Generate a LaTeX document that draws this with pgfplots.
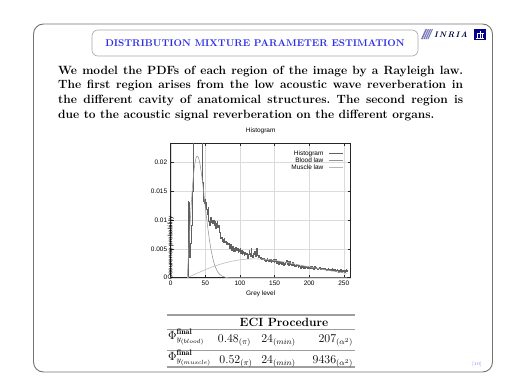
\documentclass[border=0pt]{standalone}
\usepackage{fontspec}
\usepackage{pgfplots}
\pgfplotsset{compat=1.18}
\newfontfamily\plotfont{Liberation Sans}
\definecolor{titleblue}{RGB}{45,45,230}
\definecolor{framegray}{gray}{0.45}
\definecolor{rulegray}{gray}{0.62}
\newcommand{\pf}{\plotfont\fontsize{6.5}{7}\selectfont}
\begin{document}
\begin{tikzpicture}
\begin{scope}[x=1bp,y=1bp]
\useasboundingbox (0,0) rectangle (525,390);
% frame
\draw[framegray, line width=0.9bp, rounded corners=10bp] (33.5,366) rectangle (492.5,18);
% title box
\draw[gray!70, line width=0.6bp, rounded corners=6bp] (92,334) rectangle (418,360);
\node[font=\fontsize{9.8}{10}\selectfont\bfseries, text=titleblue, inner sep=0] at (255,346.8) {DISTRIBUTION MIXTURE PARAMETER ESTIMATION};
% logo
\fill[blue!30!gray!80] (421,351) -- (425.5,361) -- (433,361) -- (428.5,351) -- cycle;
\draw[white, line width=0.4bp] (423,351) -- (427.5,361) (425,351) -- (429.5,361) (427,351)--(431.5,361);
\node[anchor=west, inner sep=0, font=\fontsize{8}{8}\selectfont\bfseries\itshape, text=blue!25!black] at (434,355.5) {I\kern1.2pt N\kern1.2pt R\kern1.2pt I\kern1.2pt A};
\fill[blue!55!black] (473.5,350.5) rectangle (486,361);
\draw[white, line width=0.6bp] (475.5,352.2)--(484,352.2) (477.5,352.2)--(477.5,356.5) (480,352.2)--(480,359.5) (482.5,352.2)--(482.5,356.5) (476.5,356.5)--(483.5,356.5);
% body text
\node[anchor=north west, inner sep=0, text width=405bp, align=justify, font=\fontsize{12}{14.7}\selectfont\bfseries] at (58,324.3) {\frenchspacing\hyphenpenalty=10000 We model the PDFs of each region of the image by a Rayleigh law.\linebreak The first region arises from the low acoustic wave reverberation in\linebreak the different cavity of anatomical structures. The second region is\linebreak due to the acoustic signal reverberation on the different organs.};
% table
\draw[rulegray, line width=1.4bp] (167,75) -- (355,75);
\node[font=\fontsize{12}{14}\selectfont\bfseries, inner sep=0] at (284,67.5) {ECI Procedure};
\draw[rulegray, line width=0.7bp] (167,60.5) -- (355,60.5);
\draw[rulegray, line width=0.7bp] (167,40) -- (355,40);
\draw[rulegray, line width=1.4bp] (167,23) -- (355,23);
\begin{scope}[every node/.style={font=\fontsize{12}{14}\selectfont, inner sep=0}]
\node[anchor=base west] at (168,51) {$\Phi^{\mathbf{final}}_{y_{(blood)}}$};
\node[anchor=base west] at (168,30) {$\Phi^{\mathbf{final}}_{y_{(muscle)}}$};
\node[anchor=base] at (234.5,47.3) {$0.48_{(\pi)}$};
\node[anchor=base] at (236,26.7) {$0.52_{(\pi)}$};
\node[anchor=base] at (278.5,47.3) {$24_{(min)}$};
\node[anchor=base] at (278.5,26.7) {$24_{(min)}$};
\node[anchor=base east] at (353,47.3) {$207_{(\alpha^2)}$};
\node[anchor=base east] at (353,26.7) {$9436_{(\alpha^2)}$};
\end{scope}
\node[font=\fontsize{4.5}{5}\selectfont, text=blue!50, inner sep=0] at (477,26) {[10]};
\end{scope}
\begin{axis}[
  at={(170.7bp,112.3bp)}, anchor=south west, scale only axis,
  width=180bp, height=134.7bp,
  xmin=0, xmax=260, ymin=0, ymax=0.0233,
  xtick={0,50,...,250},
  ytick={0,0.005,0.01,0.015,0.02},
  yticklabels={0,0.005,0.01,0.015,0.02},
  scaled y ticks=false,
  tick align=inside,
  major tick length=3bp,
  grid=major,
  major grid style={gray!28, line width=0.35bp},
  axis line style={black!85, line width=0.6bp},
  every tick/.style={black!85, line width=0.5bp},
  tick label style={font=\pf},
  /pgf/number format/assume math mode=true,
  xlabel={Grey level}, ylabel={Occurence probability},
  label style={font=\pf},
  xlabel style={at={(axis description cs:0.5,0)}, anchor=center, yshift=-16.3bp, inner sep=0},
  ylabel style={at={(axis description cs:0,0.5)}, anchor=center, xshift=-37.7bp, inner sep=0},
  title={Histogram},
  title style={font=\pf, at={(axis description cs:0.5,1)}, anchor=center, yshift=6bp, inner sep=0},
  legend style={at={(1,1)}, anchor=north east, xshift=-7bp, yshift=-7bp, draw=none, fill=none, inner sep=0, row sep=0pt, column sep=5bp, font=\pf, nodes={inner sep=0.5bp, text height=4.7bp, text depth=1.3bp}},
  legend cell align=right,
  legend plot pos=right,
  legend image code/.code={\draw[#1] (0bp,0bp) -- (14bp,0bp);},
]
\addplot[const plot, black!62, line width=0.6bp] coordinates {
(25,0)(25,0.0132)(26,0.0130)(27,0.0036)(28,0.0038)(29,0.0060)(30,0.0090)(31,0.0150)(32,0.0210)(33,0.0260)
(34,0.0300)(35,0.0340)(36,0.0370)(37,0.0390)(38,0.0400)(39,0.0380)(40,0.0360)(41,0.0330)(42,0.0300)(43,0.0270)
(44,0.0255)(45,0.0240)(46,0.0165)(47,0.0132)(48,0.0128)(49,0.0136)(50,0.0122)(51,0.0131)(52,0.0118)(53,0.0110)
(54,0.0122)(55,0.0098)(56,0.0090)(57,0.0104)(58,0.0096)(59,0.0100)(60,0.0094)(61,0.0099)(62,0.0100)(63,0.0090)
(64,0.0097)(65,0.0085)(66,0.0094)(67,0.0098)(68,0.0087)(69,0.0090)(70,0.0078)(71,0.0072)(72,0.0068)(73,0.0070)
(74,0.0063)(75,0.0066)(76,0.0062)(77,0.0068)(78,0.0061)(79,0.0063)(80,0.0058)(81,0.0062)(82,0.0057)(83,0.0060)
(84,0.0055)(85,0.0050)(86,0.0058)(87,0.0052)(88,0.0048)(89,0.0055)(90,0.0050)(91,0.0046)(92,0.0051)(93,0.0045)
(94,0.0053)(95,0.0047)(96,0.0050)(97,0.0044)(98,0.0049)(99,0.0046)(100,0.0050)(101,0.0043)(102,0.0047)(103,0.0041)
(104,0.0045)(105,0.0043)(106,0.0039)(107,0.0044)(108,0.0040)(109,0.0042)(110,0.0038)(111,0.0034)(112,0.0040)(113,0.0048)
(114,0.0042)(115,0.0037)(116,0.0051)(117,0.0039)(118,0.0035)(119,0.0042)(120,0.0040)(121,0.0046)(122,0.0037)(123,0.0049)
(124,0.0051)(125,0.0039)(126,0.0036)(127,0.0038)(128,0.0035)(129,0.0033)(130,0.0035)(131,0.0032)(132,0.0034)(133,0.0031)
(134,0.0033)(135,0.0030)(136,0.0032)(137,0.0029)(138,0.0031)(139,0.0033)(140,0.0030)(141,0.0028)(142,0.0031)(143,0.0029)
(144,0.0032)(145,0.0027)(146,0.0030)(147,0.0028)(148,0.0031)(149,0.0026)(150,0.0029)(151,0.0031)(152,0.0027)(153,0.0025)
(154,0.0029)(155,0.0026)(156,0.0024)(157,0.0028)(158,0.0025)(159,0.0027)(160,0.0023)(161,0.0026)(162,0.0024)(163,0.0022)
(164,0.0025)(165,0.0023)(166,0.0027)(167,0.0030)(168,0.0024)(169,0.0028)(170,0.0022)(171,0.0026)(172,0.0029)(173,0.0023)
(174,0.0021)(175,0.0025)(176,0.0027)(177,0.0022)(178,0.0024)(179,0.0020)(180,0.0022)(181,0.0019)(182,0.0023)(183,0.0021)
(184,0.0018)(185,0.0022)(186,0.0020)(187,0.0017)(188,0.0019)(189,0.0021)(190,0.0018)(191,0.0020)(192,0.0017)(193,0.0019)
(194,0.0016)(195,0.0018)(196,0.0020)(197,0.0017)(198,0.0019)(199,0.0016)(200,0.0018)(201,0.0020)(202,0.0017)(203,0.0019)
(204,0.0016)(205,0.0018)(206,0.0015)(207,0.0017)(208,0.0019)(209,0.0016)(210,0.0018)(211,0.0017)(212,0.0015)(213,0.0017)
(214,0.0016)(215,0.0018)(216,0.0015)(217,0.0016)(218,0.0014)(219,0.0016)(220,0.0015)(221,0.0017)(222,0.0014)(223,0.0016)
(224,0.0015)(225,0.0013)(226,0.0015)(227,0.0016)(228,0.0013)(229,0.0015)(230,0.0014)(231,0.0012)(232,0.0014)(233,0.0016)
(234,0.0013)(235,0.0015)(236,0.0012)(237,0.0014)(238,0.0011)(239,0.0013)(240,0.0015)(241,0.0012)(242,0.0010)(243,0.0013)
(244,0.0011)(245,0.0014)(246,0.0012)(247,0.0009)(248,0.0012)(249,0.0011)(250,0.0013)(251,0.0010)(252,0.0012)(253,0.0014)
(254,0.0011)(255,0.0013)(256,0.0013)
};
\addlegendentry{Histogram}
\addplot[smooth, black!42, line width=0.55bp] coordinates {
(24,0)(26,0.004777)(28,0.009281)(30,0.013264)(32,0.016530)(34,0.018940)(36,0.020437)(38,0.021031)
(40,0.020790)(42,0.019846)(44,0.018352)(46,0.016479)(48,0.014400)(50,0.012250)(52,0.010163)(54,0.008230)
(56,0.006505)(58,0.005024)(60,0.003794)(62,0.002802)(64,0.002023)(68,0.000988)(72,0.000443)(76,0.000183)
(80,0.000069)(84,0.000024)(90,0)(255,0)
};
\addlegendentry{Blood law}
\addplot[smooth, black!28, line width=0.55bp] coordinates {
(24,0)(34,0.000548)(44,0.001079)(54,0.001576)(64,0.002025)(74,0.002414)(84,0.002732)(94,0.002975)
(104,0.003141)(114,0.003229)(124,0.003244)(134,0.003193)(144,0.003083)(154,0.002926)(164,0.002731)
(174,0.002509)(184,0.002271)(194,0.002026)(204,0.001782)(214,0.001546)(224,0.001324)(234,0.001118)
(244,0.000933)(255,0.000753)
};
\addlegendentry{Muscle law}
\end{axis}
\end{tikzpicture}
\end{document}
